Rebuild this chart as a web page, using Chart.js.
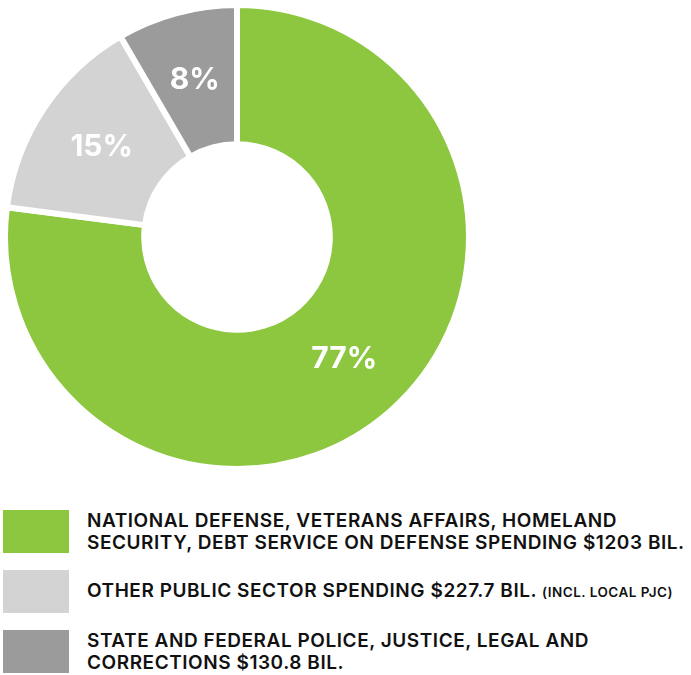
<!DOCTYPE html>
<html>
<head>
<meta charset="utf-8">
<script src="https://cdn.jsdelivr.net/npm/chart.js@4.4.0/dist/chart.umd.min.js"></script>
<style>
  body{margin:0;background:#fff;font-family:Inter,sans-serif;}
  #wrap{position:absolute;left:0;top:0;width:474px;height:474px;}
  #legend{position:absolute;left:3px;top:510px;}
  .row{position:relative;height:43px;margin-bottom:17px;}
  .box{position:absolute;left:0;top:0;width:66px;height:43px;}
  .txt{position:absolute;left:84px;top:0;height:43px;display:flex;flex-direction:column;justify-content:center;
       font-weight:600;font-size:19px;line-height:22px;color:#111;white-space:nowrap;letter-spacing:0.55px;}
  .note{font-size:13.5px;letter-spacing:0.5px;}
</style>
</head>
<body>
<div id="wrap"><canvas id="myChart" width="474" height="474"></canvas></div>
<div id="legend"></div>
<script>
// spending split, billions
const categories = ['National defense etc', 'Other public sector', 'Police, justice, corrections'];
const values = [1203, 227.7, 130.8];
const pct_labels = ['77%', '15%', '8%'];
const legend_lines = [
  ['NATIONAL DEFENSE, VETERANS AFFAIRS, HOMELAND', 'SECURITY, DEBT SERVICE ON DEFENSE SPENDING $1203 BIL.'],
  ['OTHER PUBLIC SECTOR SPENDING $227.7 BIL.'],
  ['STATE AND FEDERAL POLICE, JUSTICE, LEGAL AND', 'CORRECTIONS $130.8 BIL.']
];
const legend_notes = ['', '(INCL. LOCAL PJC)', ''];

const colors = ['#8dc63f', '#d3d3d3', '#9b9b9b'];

// percent labels inside the ring
const pctPlugin = {
  id: 'pct',
  afterDatasetsDraw(chart){
    const ctx = chart.ctx;
    const meta = chart.getDatasetMeta(0);
    ctx.save();
    ctx.fillStyle = '#fff';
    ctx.font = '700 30px Inter';
    ctx.textAlign = 'center';
    ctx.textBaseline = 'middle';
    meta.data.forEach(function(arc, i){
      const p = arc.tooltipPosition();
      ctx.fillText(pct_labels[i], p.x, p.y);
    });
    ctx.restore();
  }
};

new Chart(document.getElementById('myChart'), {
  type: 'doughnut',
  data: {
    labels: categories,
    datasets: [{
      data: values,
      backgroundColor: colors,
      borderColor: '#fff',
      borderWidth: 6
    }]
  },
  options: {
    responsive: false,
    animation: false,
    cutout: '40%',
    layout: {padding: 2},
    plugins: {
      legend: {display: false},
      tooltip: {enabled: false}
    }
  },
  plugins: [pctPlugin]
});

// html legend
const legend = document.getElementById('legend');
for(let i=0;i<categories.length;i++){
  const row = document.createElement('div');
  row.className = 'row';
  let html = legend_lines[i].map(function(l, j){
    if(j === legend_lines[i].length-1 && legend_notes[i]){
      return '<div>' + l + ' <span class="note">' + legend_notes[i] + '</span></div>';
    }
    return '<div>' + l + '</div>';
  }).join('');
  row.innerHTML = '<div class="box" style="background:' + colors[i] + '"></div><div class="txt">' + html + '</div>';
  legend.appendChild(row);
}
</script>
</body>
</html>
